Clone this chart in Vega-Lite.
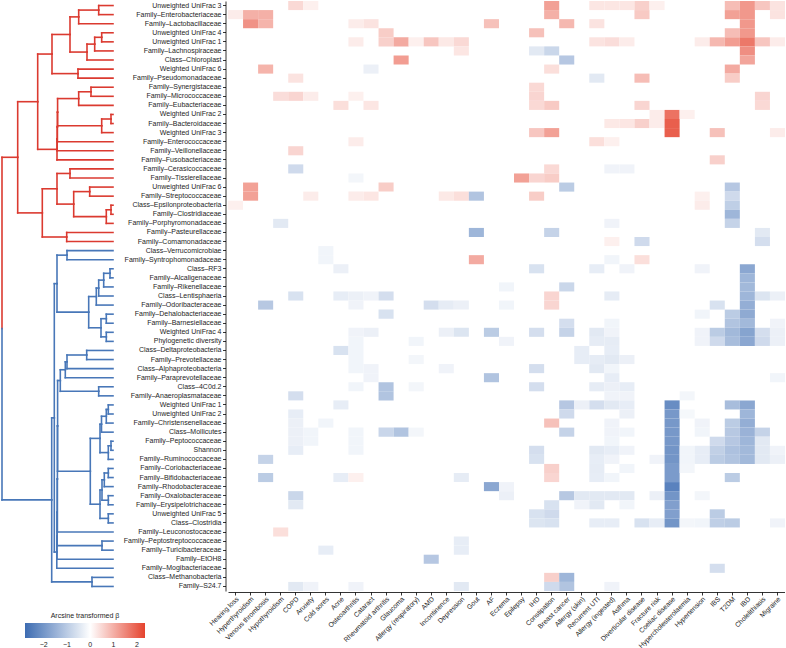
{
  "$schema": "https://vega.github.io/schema/vega-lite/v6.json",
  "padding": {"left": 0, "top": 1, "right": 0, "bottom": 0},
  "bounds": "flush",
  "spacing": 115,
  "config": {
    "view": {"stroke": null},
    "font": "Liberation Sans",
    "axis": {"domainColor": "#000000", "tickColor": "#000000", "labelColor": "#1e1e1e", "labelFontSize": 7, "labelFont": "Liberation Sans", "tickSize": 3, "domainWidth": 0.8, "tickWidth": 0.8, "grid": false}
  },
  "hconcat": [
    {
      "width": 112,
      "height": 590,
      "data": {"values": [
        {"h":14.3,"ya":1,"ha":0,"yb":2,"hb":0,"ym":1.5,"ca":"A","cb":"A"},
        {"h":34.3,"ya":1.5,"ha":14.3,"yb":3,"hb":0,"ym":2.25,"ca":"A","cb":"A"},
        {"h":11.3,"ya":4,"ha":0,"yb":5,"hb":0,"ym":4.5,"ca":"A","cb":"A"},
        {"h":18.3,"ya":4.5,"ha":11.3,"yb":6,"hb":0,"ym":5.25,"ca":"A","cb":"A"},
        {"h":26,"ya":5.25,"ha":18.3,"yb":7,"hb":0,"ym":6.125,"ca":"A","cb":"A"},
        {"h":43,"ya":2.25,"ha":34.3,"yb":6.125,"hb":26,"ym":4.1875,"ca":"A","cb":"A"},
        {"h":35,"ya":8,"ha":0,"yb":9,"hb":0,"ym":8.5,"ca":"A","cb":"A"},
        {"h":61,"ya":4.1875,"ha":43,"yb":8.5,"hb":35,"ym":6.34375,"ca":"A","cb":"A"},
        {"h":22,"ya":10,"ha":0,"yb":11,"hb":0,"ym":10.5,"ca":"A","cb":"A"},
        {"h":34.3,"ya":10.5,"ha":22,"yb":12,"hb":0,"ym":11.25,"ca":"A","cb":"A"},
        {"h":2,"ya":13,"ha":0,"yb":14,"hb":0,"ym":13.5,"ca":"A","cb":"A"},
        {"h":11.3,"ya":13.5,"ha":2,"yb":15,"hb":0,"ym":14.25,"ca":"A","cb":"A"},
        {"h":55.4,"ya":11.25,"ha":34.3,"yb":14.25,"hb":11.3,"ym":12.75,"ca":"A","cb":"A"},
        {"h":55.6,"ya":12.75,"ha":55.4,"yb":16,"hb":0,"ym":14.375,"ca":"A","cb":"A"},
        {"h":55.8,"ya":14.375,"ha":55.6,"yb":17,"hb":0,"ym":15.6875,"ca":"A","cb":"A"},
        {"h":56,"ya":15.6875,"ha":55.8,"yb":18,"hb":0,"ym":16.84375,"ca":"A","cb":"A"},
        {"h":75.3,"ya":6.34375,"ha":61,"yb":16.84375,"hb":56,"ym":11.59375,"ca":"A","cb":"A"},
        {"h":43,"ya":19,"ha":0,"yb":20,"hb":0,"ym":19.5,"ca":"A","cb":"A"},
        {"h":23.3,"ya":21,"ha":0,"yb":22,"hb":0,"ym":21.5,"ca":"A","cb":"A"},
        {"h":2,"ya":23,"ha":0,"yb":24,"hb":0,"ym":23.5,"ca":"A","cb":"A"},
        {"h":6.7,"ya":23.5,"ha":2,"yb":25,"hb":0,"ym":24.25,"ca":"A","cb":"A"},
        {"h":39.3,"ya":21.5,"ha":23.3,"yb":24.25,"hb":6.7,"ym":22.875,"ca":"A","cb":"A"},
        {"h":56,"ya":19.5,"ha":43,"yb":22.875,"hb":39.3,"ym":21.1875,"ca":"A","cb":"A"},
        {"h":46.3,"ya":26,"ha":0,"yb":27,"hb":0,"ym":26.5,"ca":"A","cb":"A"},
        {"h":70.7,"ya":21.1875,"ha":56,"yb":26.5,"hb":46.3,"ym":23.84375,"ca":"A","cb":"A"},
        {"h":95.3,"ya":11.59375,"ha":75.3,"yb":23.84375,"hb":70.7,"ym":17.71875,"ca":"A","cb":"A"},
        {"h":46,"ya":28,"ha":0,"yb":29,"hb":0,"ym":28.5,"ca":"B","cb":"B"},
        {"h":3,"ya":30,"ha":0,"yb":31,"hb":0,"ym":30.5,"ca":"B","cb":"B"},
        {"h":9.3,"ya":30.5,"ha":3,"yb":32,"hb":0,"ym":31.25,"ca":"B","cb":"B"},
        {"h":14.3,"ya":31.25,"ha":9.3,"yb":33,"hb":0,"ym":32.125,"ca":"B","cb":"B"},
        {"h":16.7,"ya":32.125,"ha":14.3,"yb":34,"hb":0,"ym":33.0625,"ca":"B","cb":"B"},
        {"h":6.7,"ya":35,"ha":0,"yb":36,"hb":0,"ym":35.5,"ca":"B","cb":"B"},
        {"h":6.7,"ya":37,"ha":0,"yb":38,"hb":0,"ym":37.5,"ca":"B","cb":"B"},
        {"h":12,"ya":35.5,"ha":6.7,"yb":37.5,"hb":6.7,"ym":36.5,"ca":"B","cb":"B"},
        {"h":24.3,"ya":33.0625,"ha":16.7,"yb":36.5,"hb":12,"ym":34.78125,"ca":"B","cb":"B"},
        {"h":56,"ya":28.5,"ha":46,"yb":34.78125,"hb":24.3,"ym":31.640625,"ca":"B","cb":"B"},
        {"h":26.3,"ya":39,"ha":0,"yb":40,"hb":0,"ym":39.5,"ca":"B","cb":"B"},
        {"h":46,"ya":39.5,"ha":26.3,"yb":41,"hb":0,"ym":40.25,"ca":"B","cb":"B"},
        {"h":47.7,"ya":40.25,"ha":46,"yb":42,"hb":0,"ym":41.125,"ca":"B","cb":"B"},
        {"h":14.3,"ya":43,"ha":0,"yb":44,"hb":0,"ym":43.5,"ca":"B","cb":"B"},
        {"h":52.7,"ya":41.125,"ha":47.7,"yb":43.5,"hb":14.3,"ym":42.3125,"ca":"B","cb":"B"},
        {"h":4.7,"ya":45,"ha":0,"yb":46,"hb":0,"ym":45.5,"ca":"B","cb":"B"},
        {"h":6.7,"ya":45.5,"ha":4.7,"yb":47,"hb":0,"ym":46.25,"ca":"B","cb":"B"},
        {"h":11.5,"ya":46.25,"ha":6.7,"yb":48,"hb":0,"ym":47.125,"ca":"B","cb":"B"},
        {"h":2,"ya":49,"ha":0,"yb":50,"hb":0,"ym":49.5,"ca":"B","cb":"B"},
        {"h":4.7,"ya":49.5,"ha":2,"yb":51,"hb":0,"ym":50.25,"ca":"B","cb":"B"},
        {"h":13,"ya":47.125,"ha":11.5,"yb":50.25,"hb":4.7,"ym":48.6875,"ca":"B","cb":"B"},
        {"h":4.7,"ya":52,"ha":0,"yb":53,"hb":0,"ym":52.5,"ca":"B","cb":"B"},
        {"h":8.7,"ya":52.5,"ha":4.7,"yb":54,"hb":0,"ym":53.25,"ca":"B","cb":"B"},
        {"h":4.7,"ya":55,"ha":0,"yb":56,"hb":0,"ym":55.5,"ca":"B","cb":"B"},
        {"h":11,"ya":53.25,"ha":8.7,"yb":55.5,"hb":4.7,"ym":54.375,"ca":"B","cb":"B"},
        {"h":4.7,"ya":57,"ha":0,"yb":58,"hb":0,"ym":57.5,"ca":"B","cb":"B"},
        {"h":13,"ya":54.375,"ha":11,"yb":57.5,"hb":4.7,"ym":55.9375,"ca":"B","cb":"B"},
        {"h":22.7,"ya":48.6875,"ha":13,"yb":55.9375,"hb":13,"ym":52.3125,"ca":"B","cb":"B"},
        {"h":55.4,"ya":42.3125,"ha":52.7,"yb":52.3125,"hb":22.7,"ym":47.3125,"ca":"B","cb":"B"},
        {"h":55.6,"ya":47.3125,"ha":55.4,"yb":59,"hb":0,"ym":53.15625,"ca":"B","cb":"B"},
        {"h":11,"ya":60,"ha":0,"yb":61,"hb":0,"ym":60.5,"ca":"B","cb":"B"},
        {"h":55.8,"ya":53.15625,"ha":55.6,"yb":60.5,"hb":11,"ym":56.828,"ca":"B","cb":"B"},
        {"h":56,"ya":56.828,"ha":55.8,"yb":62,"hb":0,"ym":59.414,"ca":"B","cb":"B"},
        {"h":56.2,"ya":59.414,"ha":56,"yb":63,"hb":0,"ym":61.207,"ca":"B","cb":"B"},
        {"h":58.7,"ya":31.640625,"ha":56,"yb":61.207,"hb":56.2,"ym":46.424,"ca":"B","cb":"B"},
        {"h":21,"ya":64,"ha":0,"yb":65,"hb":0,"ym":64.5,"ca":"B","cb":"B"},
        {"h":61.3,"ya":46.424,"ha":58.7,"yb":64.5,"hb":21,"ym":55.462,"ca":"B","cb":"B"},
        {"h":111,"ya":17.71875,"ha":95.3,"yb":55.462,"hb":61.3,"ym":36.59,"ca":"A","cb":"B"}
      ]},
      "layer": [
        {"mark": {"type": "rule", "strokeWidth": 1.6, "strokeCap": "square"},
         "encoding": {
           "x": {"field": "h", "type": "quantitative", "scale": {"domain": [0, 112], "reverse": true, "nice": false, "zero": false}, "axis": null},
           "y": {"field": "ya", "type": "quantitative", "scale": {"domain": [0.5, 65.5], "reverse": true, "nice": false, "zero": false}, "axis": null},
           "y2": {"field": "ym"},
           "stroke": {"field": "ca", "type": "nominal", "scale": {"domain": ["A", "B"], "range": ["#db3a30", "#4877b8"]}, "legend": null}
         }},
        {"mark": {"type": "rule", "strokeWidth": 1.6, "strokeCap": "square"},
         "encoding": {
           "x": {"field": "h", "type": "quantitative"},
           "y": {"field": "ym", "type": "quantitative"},
           "y2": {"field": "yb"},
           "stroke": {"field": "cb", "type": "nominal", "legend": null}
         }},
        {"mark": {"type": "rule", "strokeWidth": 1.6, "strokeCap": "square"},
         "encoding": {
           "x": {"field": "h", "type": "quantitative"},
           "x2": {"field": "ha"},
           "y": {"field": "ya", "type": "quantitative"},
           "stroke": {"field": "ca", "type": "nominal", "legend": null}
         }},
        {"mark": {"type": "rule", "strokeWidth": 1.6, "strokeCap": "square"},
         "encoding": {
           "x": {"field": "h", "type": "quantitative"},
           "x2": {"field": "hb"},
           "y": {"field": "yb", "type": "quantitative"},
           "stroke": {"field": "cb", "type": "nominal", "legend": null}
         }}
      ]
    },
    {
      "width": 557,
      "height": 590,
      "data": {"values": [
        {"t":"Unweighted UniFrac 3","d":"COPD","b":0.47},
        {"t":"Unweighted UniFrac 3","d":"Anxiety","b":0.19},
        {"t":"Unweighted UniFrac 3","d":"Constipation","b":1.18},
        {"t":"Unweighted UniFrac 3","d":"Recurrent UTI","b":0.31},
        {"t":"Unweighted UniFrac 3","d":"Allergy (ingested)","b":0.31},
        {"t":"Unweighted UniFrac 3","d":"Asthma","b":0.31},
        {"t":"Unweighted UniFrac 3","d":"Diverticular disease","b":0.59},
        {"t":"Unweighted UniFrac 3","d":"Fracture risk","b":0.19},
        {"t":"Unweighted UniFrac 3","d":"T2DM","b":0.82},
        {"t":"Unweighted UniFrac 3","d":"IBD","b":1.29},
        {"t":"Unweighted UniFrac 3","d":"Cholelithiasis","b":0.71},
        {"t":"Unweighted UniFrac 3","d":"Migraine","b":0.35},
        {"t":"Family–Enterobacteriaceae","d":"Hearing loss","b":0.24},
        {"t":"Family–Enterobacteriaceae","d":"Hyperthyroidism","b":0.99},
        {"t":"Family–Enterobacteriaceae","d":"Venous thrombosis","b":0.99},
        {"t":"Family–Enterobacteriaceae","d":"Constipation","b":0.99},
        {"t":"Family–Enterobacteriaceae","d":"Diverticular disease","b":0.66},
        {"t":"Family–Enterobacteriaceae","d":"T2DM","b":1.18},
        {"t":"Family–Enterobacteriaceae","d":"IBD","b":1.29},
        {"t":"Family–Enterobacteriaceae","d":"Migraine","b":0.35},
        {"t":"Family–Lactobacillaceae","d":"Hyperthyroidism","b":1.36},
        {"t":"Family–Lactobacillaceae","d":"Venous thrombosis","b":0.94},
        {"t":"Family–Lactobacillaceae","d":"Osteoarthritis","b":0.24},
        {"t":"Family–Lactobacillaceae","d":"Cataract","b":0.35},
        {"t":"Family–Lactobacillaceae","d":"AF","b":0.78},
        {"t":"Family–Lactobacillaceae","d":"Breast cancer","b":0.89},
        {"t":"Family–Lactobacillaceae","d":"Recurrent UTI","b":0.35},
        {"t":"Family–Lactobacillaceae","d":"IBD","b":1.29},
        {"t":"Unweighted UniFrac 4","d":"Rheumatoid arthritis","b":0.63},
        {"t":"Unweighted UniFrac 4","d":"IHD","b":0.78},
        {"t":"Unweighted UniFrac 4","d":"T2DM","b":0.82},
        {"t":"Unweighted UniFrac 4","d":"IBD","b":1.29},
        {"t":"Unweighted UniFrac 1","d":"Osteoarthritis","b":0.24},
        {"t":"Unweighted UniFrac 1","d":"Rheumatoid arthritis","b":0.59},
        {"t":"Unweighted UniFrac 1","d":"Glaucoma","b":1.06},
        {"t":"Unweighted UniFrac 1","d":"Allergy (respiratory)","b":0.19},
        {"t":"Unweighted UniFrac 1","d":"AMD","b":0.71},
        {"t":"Unweighted UniFrac 1","d":"Incontinence","b":0.28},
        {"t":"Unweighted UniFrac 1","d":"Depression","b":0.47},
        {"t":"Unweighted UniFrac 1","d":"Recurrent UTI","b":0.35},
        {"t":"Unweighted UniFrac 1","d":"Allergy (ingested)","b":0.42},
        {"t":"Unweighted UniFrac 1","d":"Asthma","b":0.24},
        {"t":"Unweighted UniFrac 1","d":"Hypertension","b":0.24},
        {"t":"Unweighted UniFrac 1","d":"IBS","b":0.89},
        {"t":"Unweighted UniFrac 1","d":"T2DM","b":1.22},
        {"t":"Unweighted UniFrac 1","d":"IBD","b":1.69},
        {"t":"Unweighted UniFrac 1","d":"Cholelithiasis","b":0.71},
        {"t":"Unweighted UniFrac 1","d":"Migraine","b":0.24},
        {"t":"Family–Lachnospiraceae","d":"Depression","b":0.31},
        {"t":"Family–Lachnospiraceae","d":"IHD","b":-0.42},
        {"t":"Family–Lachnospiraceae","d":"Constipation","b":-0.76},
        {"t":"Family–Lachnospiraceae","d":"IBD","b":1.41},
        {"t":"Class–Chloroplast","d":"Glaucoma","b":1.22},
        {"t":"Class–Chloroplast","d":"Breast cancer","b":-1.06},
        {"t":"Class–Chloroplast","d":"IBD","b":1.13},
        {"t":"Weighted UniFrac 6","d":"Venous thrombosis","b":0.94},
        {"t":"Weighted UniFrac 6","d":"Cataract","b":-0.28},
        {"t":"Weighted UniFrac 6","d":"Constipation","b":0.4},
        {"t":"Weighted UniFrac 6","d":"T2DM","b":1.06},
        {"t":"Family–Pseudomonadaceae","d":"COPD","b":0.35},
        {"t":"Family–Pseudomonadaceae","d":"Recurrent UTI","b":-0.42},
        {"t":"Family–Pseudomonadaceae","d":"Diverticular disease","b":0.82},
        {"t":"Family–Pseudomonadaceae","d":"T2DM","b":0.63},
        {"t":"Family–Synergistaceae","d":"IHD","b":0.47},
        {"t":"Family–Micrococcaceae","d":"Hypothyroidism","b":0.42},
        {"t":"Family–Micrococcaceae","d":"COPD","b":0.52},
        {"t":"Family–Micrococcaceae","d":"Anxiety","b":0.24},
        {"t":"Family–Micrococcaceae","d":"Osteoarthritis","b":0.19},
        {"t":"Family–Micrococcaceae","d":"IHD","b":0.52},
        {"t":"Family–Micrococcaceae","d":"Cholelithiasis","b":0.52},
        {"t":"Family–Eubacteriaceae","d":"Acne","b":0.4},
        {"t":"Family–Eubacteriaceae","d":"Cataract","b":0.31},
        {"t":"Family–Eubacteriaceae","d":"IHD","b":0.47},
        {"t":"Family–Eubacteriaceae","d":"Constipation","b":0.66},
        {"t":"Family–Eubacteriaceae","d":"Diverticular disease","b":0.52},
        {"t":"Family–Eubacteriaceae","d":"Cholelithiasis","b":0.47},
        {"t":"Weighted UniFrac 2","d":"Fracture risk","b":0.24},
        {"t":"Weighted UniFrac 2","d":"Coeliac disease","b":1.76},
        {"t":"Weighted UniFrac 2","d":"Hypercholesterolaemia","b":0.19},
        {"t":"Family–Bacteroidaceae","d":"Allergy (ingested)","b":0.28},
        {"t":"Family–Bacteroidaceae","d":"Asthma","b":0.31},
        {"t":"Family–Bacteroidaceae","d":"Diverticular disease","b":0.59},
        {"t":"Family–Bacteroidaceae","d":"Fracture risk","b":0.24},
        {"t":"Family–Bacteroidaceae","d":"Coeliac disease","b":2.0},
        {"t":"Weighted UniFrac 3","d":"IHD","b":0.71},
        {"t":"Weighted UniFrac 3","d":"Constipation","b":1.18},
        {"t":"Weighted UniFrac 3","d":"Coeliac disease","b":2.0},
        {"t":"Weighted UniFrac 3","d":"IBS","b":0.78},
        {"t":"Weighted UniFrac 3","d":"Migraine","b":0.24},
        {"t":"Family–Enterococcaceae","d":"Osteoarthritis","b":0.24},
        {"t":"Family–Enterococcaceae","d":"Recurrent UTI","b":0.4},
        {"t":"Family–Enterococcaceae","d":"Allergy (ingested)","b":0.19},
        {"t":"Family–Veillonellaceae","d":"COPD","b":0.52},
        {"t":"Family–Fusobacteriaceae","d":"IBS","b":0.59},
        {"t":"Family–Cerasicoccaceae","d":"COPD","b":-0.7},
        {"t":"Family–Cerasicoccaceae","d":"Constipation","b":0.47},
        {"t":"Family–Cerasicoccaceae","d":"Allergy (ingested)","b":-0.22},
        {"t":"Family–Cerasicoccaceae","d":"Asthma","b":-0.22},
        {"t":"Family–Tissierellaceae","d":"Osteoarthritis","b":-0.17},
        {"t":"Family–Tissierellaceae","d":"Epilepsy","b":1.18},
        {"t":"Family–Tissierellaceae","d":"IHD","b":0.52},
        {"t":"Family–Tissierellaceae","d":"Constipation","b":0.63},
        {"t":"Unweighted UniFrac 6","d":"Hyperthyroidism","b":1.18},
        {"t":"Unweighted UniFrac 6","d":"Rheumatoid arthritis","b":0.63},
        {"t":"Unweighted UniFrac 6","d":"Breast cancer","b":-0.98},
        {"t":"Unweighted UniFrac 6","d":"T2DM","b":-1.06},
        {"t":"Family–Streptococcaceae","d":"Hyperthyroidism","b":1.18},
        {"t":"Family–Streptococcaceae","d":"Anxiety","b":0.24},
        {"t":"Family–Streptococcaceae","d":"Osteoarthritis","b":0.24},
        {"t":"Family–Streptococcaceae","d":"Cataract","b":0.31},
        {"t":"Family–Streptococcaceae","d":"Incontinence","b":0.28},
        {"t":"Family–Streptococcaceae","d":"Depression","b":0.4},
        {"t":"Family–Streptococcaceae","d":"Gout","b":-1.12},
        {"t":"Family–Streptococcaceae","d":"IHD","b":0.63},
        {"t":"Family–Streptococcaceae","d":"Hypertension","b":0.19},
        {"t":"Family–Streptococcaceae","d":"T2DM","b":-0.7},
        {"t":"Class–Epsilonproteobacteria","d":"Hearing loss","b":0.19},
        {"t":"Class–Epsilonproteobacteria","d":"Hypertension","b":0.24},
        {"t":"Class–Epsilonproteobacteria","d":"T2DM","b":-0.92},
        {"t":"Family–Clostridiaceae","d":"T2DM","b":-1.4},
        {"t":"Family–Porphyromonadaceae","d":"Hypothyroidism","b":-0.42},
        {"t":"Family–Porphyromonadaceae","d":"Allergy (ingested)","b":-0.22},
        {"t":"Family–Porphyromonadaceae","d":"T2DM","b":-0.84},
        {"t":"Family–Pasteurellaceae","d":"Gout","b":-1.4},
        {"t":"Family–Pasteurellaceae","d":"Constipation","b":-0.84},
        {"t":"Family–Pasteurellaceae","d":"Cholelithiasis","b":-0.42},
        {"t":"Family–Comamonadaceae","d":"Allergy (ingested)","b":0.19},
        {"t":"Family–Comamonadaceae","d":"Diverticular disease","b":-0.7},
        {"t":"Family–Comamonadaceae","d":"Cholelithiasis","b":-0.62},
        {"t":"Class–Verrucomicrobiae","d":"Cold sores","b":-0.2},
        {"t":"Family–Syntrophomonadaceae","d":"Cold sores","b":-0.2},
        {"t":"Family–Syntrophomonadaceae","d":"Gout","b":1.06},
        {"t":"Family–Syntrophomonadaceae","d":"Allergy (ingested)","b":-0.2},
        {"t":"Family–Syntrophomonadaceae","d":"Diverticular disease","b":0.4},
        {"t":"Class–RF3","d":"Acne","b":-0.28},
        {"t":"Class–RF3","d":"IHD","b":-0.56},
        {"t":"Class–RF3","d":"Recurrent UTI","b":-0.34},
        {"t":"Class–RF3","d":"Asthma","b":-0.22},
        {"t":"Class–RF3","d":"Hypertension","b":-0.22},
        {"t":"Class–RF3","d":"IBD","b":-1.68},
        {"t":"Family–Alcaligenaceae","d":"IBD","b":-1.4},
        {"t":"Family–Rikenellaceae","d":"Eczema","b":-0.2},
        {"t":"Family–Rikenellaceae","d":"Breast cancer","b":-0.76},
        {"t":"Family–Rikenellaceae","d":"IBD","b":-1.34},
        {"t":"Class–Lentisphaeria","d":"COPD","b":-0.56},
        {"t":"Class–Lentisphaeria","d":"Acne","b":-0.34},
        {"t":"Class–Lentisphaeria","d":"Osteoarthritis","b":-0.28},
        {"t":"Class–Lentisphaeria","d":"Cataract","b":-0.22},
        {"t":"Class–Lentisphaeria","d":"Rheumatoid arthritis","b":-0.62},
        {"t":"Class–Lentisphaeria","d":"Constipation","b":0.52},
        {"t":"Class–Lentisphaeria","d":"Allergy (ingested)","b":-0.36},
        {"t":"Class–Lentisphaeria","d":"IBD","b":-1.4},
        {"t":"Class–Lentisphaeria","d":"Cholelithiasis","b":-0.5},
        {"t":"Class–Lentisphaeria","d":"Migraine","b":-0.28},
        {"t":"Family–Odoribacteraceae","d":"Venous thrombosis","b":-1.04},
        {"t":"Family–Odoribacteraceae","d":"Osteoarthritis","b":-0.22},
        {"t":"Family–Odoribacteraceae","d":"AMD","b":-0.62},
        {"t":"Family–Odoribacteraceae","d":"Incontinence","b":-0.36},
        {"t":"Family–Odoribacteraceae","d":"Depression","b":-0.28},
        {"t":"Family–Odoribacteraceae","d":"Eczema","b":-0.2},
        {"t":"Family–Odoribacteraceae","d":"Constipation","b":0.52},
        {"t":"Family–Odoribacteraceae","d":"IBS","b":-0.56},
        {"t":"Family–Odoribacteraceae","d":"IBD","b":-1.54},
        {"t":"Family–Dehalobacteriaceae","d":"Rheumatoid arthritis","b":-0.56},
        {"t":"Family–Dehalobacteriaceae","d":"Hypertension","b":-0.2},
        {"t":"Family–Dehalobacteriaceae","d":"T2DM","b":-0.98},
        {"t":"Family–Dehalobacteriaceae","d":"IBD","b":-1.62},
        {"t":"Family–Barnesiellaceae","d":"Breast cancer","b":-0.62},
        {"t":"Family–Barnesiellaceae","d":"Allergy (ingested)","b":-0.2},
        {"t":"Family–Barnesiellaceae","d":"T2DM","b":-1.12},
        {"t":"Family–Barnesiellaceae","d":"IBD","b":-1.34},
        {"t":"Family–Barnesiellaceae","d":"Migraine","b":-0.22},
        {"t":"Weighted UniFrac 4","d":"Osteoarthritis","b":-0.22},
        {"t":"Weighted UniFrac 4","d":"Cataract","b":-0.28},
        {"t":"Weighted UniFrac 4","d":"Incontinence","b":-0.28},
        {"t":"Weighted UniFrac 4","d":"Depression","b":-0.5},
        {"t":"Weighted UniFrac 4","d":"AF","b":-0.98},
        {"t":"Weighted UniFrac 4","d":"IHD","b":-0.62},
        {"t":"Weighted UniFrac 4","d":"Breast cancer","b":-0.84},
        {"t":"Weighted UniFrac 4","d":"Recurrent UTI","b":-0.42},
        {"t":"Weighted UniFrac 4","d":"Allergy (ingested)","b":-0.22},
        {"t":"Weighted UniFrac 4","d":"Hypertension","b":-0.22},
        {"t":"Weighted UniFrac 4","d":"IBS","b":-0.98},
        {"t":"Weighted UniFrac 4","d":"T2DM","b":-1.34},
        {"t":"Weighted UniFrac 4","d":"IBD","b":-1.74},
        {"t":"Weighted UniFrac 4","d":"Cholelithiasis","b":-0.62},
        {"t":"Weighted UniFrac 4","d":"Migraine","b":-0.28},
        {"t":"Phylogenetic diversity","d":"Osteoarthritis","b":-0.2},
        {"t":"Phylogenetic diversity","d":"Allergy (respiratory)","b":-0.2},
        {"t":"Phylogenetic diversity","d":"Eczema","b":-0.22},
        {"t":"Phylogenetic diversity","d":"Recurrent UTI","b":-0.36},
        {"t":"Phylogenetic diversity","d":"Allergy (ingested)","b":-0.36},
        {"t":"Phylogenetic diversity","d":"Hypertension","b":-0.22},
        {"t":"Phylogenetic diversity","d":"IBS","b":-0.7},
        {"t":"Phylogenetic diversity","d":"T2DM","b":-1.26},
        {"t":"Phylogenetic diversity","d":"IBD","b":-1.68},
        {"t":"Phylogenetic diversity","d":"Cholelithiasis","b":-0.7},
        {"t":"Phylogenetic diversity","d":"Migraine","b":-0.28},
        {"t":"Class–Deltaproteobacteria","d":"Acne","b":-0.56},
        {"t":"Class–Deltaproteobacteria","d":"Osteoarthritis","b":-0.2},
        {"t":"Class–Deltaproteobacteria","d":"Allergy (skin)","b":-0.34},
        {"t":"Class–Deltaproteobacteria","d":"Allergy (ingested)","b":-0.34},
        {"t":"Family–Prevotellaceae","d":"Osteoarthritis","b":-0.2},
        {"t":"Family–Prevotellaceae","d":"Allergy (respiratory)","b":-0.17},
        {"t":"Family–Prevotellaceae","d":"Allergy (skin)","b":-0.34},
        {"t":"Family–Prevotellaceae","d":"Recurrent UTI","b":-0.36},
        {"t":"Family–Prevotellaceae","d":"Allergy (ingested)","b":-0.42},
        {"t":"Family–Prevotellaceae","d":"Asthma","b":-0.28},
        {"t":"Class–Alphaproteobacteria","d":"Osteoarthritis","b":-0.2},
        {"t":"Class–Alphaproteobacteria","d":"Cataract","b":-0.22},
        {"t":"Class–Alphaproteobacteria","d":"Incontinence","b":-0.22},
        {"t":"Class–Alphaproteobacteria","d":"IHD","b":-0.62},
        {"t":"Class–Alphaproteobacteria","d":"Recurrent UTI","b":-0.42},
        {"t":"Class–Alphaproteobacteria","d":"Allergy (ingested)","b":-0.2},
        {"t":"Family–Paraprevotellaceae","d":"Cataract","b":-0.22},
        {"t":"Family–Paraprevotellaceae","d":"AF","b":-1.12},
        {"t":"Family–Paraprevotellaceae","d":"Allergy (ingested)","b":-0.34},
        {"t":"Family–Paraprevotellaceae","d":"Migraine","b":-0.2},
        {"t":"Class–4C0d.2","d":"Osteoarthritis","b":-0.2},
        {"t":"Class–4C0d.2","d":"Rheumatoid arthritis","b":-1.12},
        {"t":"Class–4C0d.2","d":"Allergy (respiratory)","b":-0.17},
        {"t":"Class–4C0d.2","d":"IHD","b":-0.62},
        {"t":"Class–4C0d.2","d":"Recurrent UTI","b":-0.36},
        {"t":"Class–4C0d.2","d":"Allergy (ingested)","b":-0.28},
        {"t":"Class–4C0d.2","d":"Asthma","b":-0.34},
        {"t":"Family–Anaeroplasmataceae","d":"COPD","b":-0.62},
        {"t":"Family–Anaeroplasmataceae","d":"Rheumatoid arthritis","b":-1.12},
        {"t":"Family–Anaeroplasmataceae","d":"Allergy (ingested)","b":-0.22},
        {"t":"Family–Anaeroplasmataceae","d":"Asthma","b":-0.22},
        {"t":"Family–Anaeroplasmataceae","d":"Hypercholesterolaemia","b":-0.17},
        {"t":"Weighted UniFrac 1","d":"Acne","b":-0.34},
        {"t":"Weighted UniFrac 1","d":"Breast cancer","b":-1.06},
        {"t":"Weighted UniFrac 1","d":"Allergy (skin)","b":-0.28},
        {"t":"Weighted UniFrac 1","d":"Recurrent UTI","b":-0.62},
        {"t":"Weighted UniFrac 1","d":"Allergy (ingested)","b":-0.42},
        {"t":"Weighted UniFrac 1","d":"Asthma","b":-0.34},
        {"t":"Weighted UniFrac 1","d":"Coeliac disease","b":-2.18},
        {"t":"Weighted UniFrac 1","d":"T2DM","b":-1.26},
        {"t":"Weighted UniFrac 1","d":"IBD","b":-1.68},
        {"t":"Unweighted UniFrac 2","d":"COPD","b":-0.34},
        {"t":"Unweighted UniFrac 2","d":"Breast cancer","b":-0.7},
        {"t":"Unweighted UniFrac 2","d":"Asthma","b":-0.28},
        {"t":"Unweighted UniFrac 2","d":"Coeliac disease","b":-1.96},
        {"t":"Unweighted UniFrac 2","d":"Hypercholesterolaemia","b":-0.14},
        {"t":"Unweighted UniFrac 2","d":"IBD","b":-1.4},
        {"t":"Family–Christensenellaceae","d":"COPD","b":-0.28},
        {"t":"Family–Christensenellaceae","d":"Cold sores","b":-0.2},
        {"t":"Family–Christensenellaceae","d":"Constipation","b":0.78},
        {"t":"Family–Christensenellaceae","d":"Allergy (ingested)","b":-0.22},
        {"t":"Family–Christensenellaceae","d":"Coeliac disease","b":-1.96},
        {"t":"Family–Christensenellaceae","d":"Hypertension","b":-0.22},
        {"t":"Family–Christensenellaceae","d":"T2DM","b":-0.98},
        {"t":"Family–Christensenellaceae","d":"IBD","b":-1.54},
        {"t":"Class–Mollicutes","d":"COPD","b":-0.28},
        {"t":"Class–Mollicutes","d":"Anxiety","b":-0.2},
        {"t":"Class–Mollicutes","d":"Osteoarthritis","b":-0.2},
        {"t":"Class–Mollicutes","d":"Rheumatoid arthritis","b":-0.78},
        {"t":"Class–Mollicutes","d":"Glaucoma","b":-1.12},
        {"t":"Class–Mollicutes","d":"Allergy (respiratory)","b":-0.17},
        {"t":"Class–Mollicutes","d":"Breast cancer","b":-0.84},
        {"t":"Class–Mollicutes","d":"Allergy (ingested)","b":-0.22},
        {"t":"Class–Mollicutes","d":"Asthma","b":-0.2},
        {"t":"Class–Mollicutes","d":"Coeliac disease","b":-1.96},
        {"t":"Class–Mollicutes","d":"Hypertension","b":-0.2},
        {"t":"Class–Mollicutes","d":"T2DM","b":-1.04},
        {"t":"Class–Mollicutes","d":"IBD","b":-1.46},
        {"t":"Class–Mollicutes","d":"Cholelithiasis","b":-0.84},
        {"t":"Family–Peptococcaceae","d":"COPD","b":-0.28},
        {"t":"Family–Peptococcaceae","d":"Anxiety","b":-0.2},
        {"t":"Family–Peptococcaceae","d":"Osteoarthritis","b":-0.2},
        {"t":"Family–Peptococcaceae","d":"Allergy (ingested)","b":-0.2},
        {"t":"Family–Peptococcaceae","d":"Coeliac disease","b":-1.96},
        {"t":"Family–Peptococcaceae","d":"IBS","b":-0.7},
        {"t":"Family–Peptococcaceae","d":"T2DM","b":-1.06},
        {"t":"Family–Peptococcaceae","d":"IBD","b":-1.4},
        {"t":"Family–Peptococcaceae","d":"Cholelithiasis","b":-0.42},
        {"t":"Shannon","d":"COPD","b":-0.34},
        {"t":"Shannon","d":"Osteoarthritis","b":-0.2},
        {"t":"Shannon","d":"IHD","b":-0.62},
        {"t":"Shannon","d":"Recurrent UTI","b":-0.42},
        {"t":"Shannon","d":"Allergy (ingested)","b":-0.34},
        {"t":"Shannon","d":"Asthma","b":-0.22},
        {"t":"Shannon","d":"Coeliac disease","b":-2.02},
        {"t":"Shannon","d":"Hypercholesterolaemia","b":-0.2},
        {"t":"Shannon","d":"Hypertension","b":-0.34},
        {"t":"Shannon","d":"IBS","b":-0.9},
        {"t":"Shannon","d":"T2DM","b":-1.18},
        {"t":"Shannon","d":"IBD","b":-1.34},
        {"t":"Shannon","d":"Cholelithiasis","b":-0.42},
        {"t":"Shannon","d":"Migraine","b":-0.22},
        {"t":"Family–Ruminococcaceae","d":"Venous thrombosis","b":-0.84},
        {"t":"Family–Ruminococcaceae","d":"IHD","b":-0.56},
        {"t":"Family–Ruminococcaceae","d":"Recurrent UTI","b":-0.34},
        {"t":"Family–Ruminococcaceae","d":"Allergy (ingested)","b":-0.22},
        {"t":"Family–Ruminococcaceae","d":"Fracture risk","b":-0.22},
        {"t":"Family–Ruminococcaceae","d":"Coeliac disease","b":-2.02},
        {"t":"Family–Ruminococcaceae","d":"Hypercholesterolaemia","b":-0.2},
        {"t":"Family–Ruminococcaceae","d":"Hypertension","b":-0.34},
        {"t":"Family–Ruminococcaceae","d":"IBS","b":-0.98},
        {"t":"Family–Ruminococcaceae","d":"T2DM","b":-1.12},
        {"t":"Family–Ruminococcaceae","d":"IBD","b":-1.34},
        {"t":"Family–Ruminococcaceae","d":"Cholelithiasis","b":-0.42},
        {"t":"Family–Ruminococcaceae","d":"Migraine","b":-0.28},
        {"t":"Family–Coriobacteriaceae","d":"Constipation","b":0.59},
        {"t":"Family–Coriobacteriaceae","d":"Recurrent UTI","b":-0.36},
        {"t":"Family–Coriobacteriaceae","d":"Asthma","b":-0.2},
        {"t":"Family–Coriobacteriaceae","d":"Coeliac disease","b":-1.9},
        {"t":"Family–Coriobacteriaceae","d":"Hypercholesterolaemia","b":-0.17},
        {"t":"Family–Bifidobacteriaceae","d":"Venous thrombosis","b":-0.98},
        {"t":"Family–Bifidobacteriaceae","d":"Acne","b":-0.34},
        {"t":"Family–Bifidobacteriaceae","d":"Osteoarthritis","b":0.19},
        {"t":"Family–Bifidobacteriaceae","d":"Depression","b":-0.36},
        {"t":"Family–Bifidobacteriaceae","d":"Constipation","b":0.52},
        {"t":"Family–Bifidobacteriaceae","d":"Recurrent UTI","b":-0.34},
        {"t":"Family–Bifidobacteriaceae","d":"Allergy (ingested)","b":-0.2},
        {"t":"Family–Bifidobacteriaceae","d":"Coeliac disease","b":-1.9},
        {"t":"Family–Bifidobacteriaceae","d":"T2DM","b":-0.98},
        {"t":"Family–Rhodobacteraceae","d":"AF","b":-1.68},
        {"t":"Family–Rhodobacteraceae","d":"Eczema","b":-0.22},
        {"t":"Family–Rhodobacteraceae","d":"Coeliac disease","b":-2.38},
        {"t":"Family–Oxalobacteraceae","d":"COPD","b":-0.76},
        {"t":"Family–Oxalobacteraceae","d":"Eczema","b":-0.28},
        {"t":"Family–Oxalobacteraceae","d":"Breast cancer","b":-1.04},
        {"t":"Family–Oxalobacteraceae","d":"Allergy (skin)","b":-0.42},
        {"t":"Family–Oxalobacteraceae","d":"Recurrent UTI","b":-0.42},
        {"t":"Family–Oxalobacteraceae","d":"Allergy (ingested)","b":-0.42},
        {"t":"Family–Oxalobacteraceae","d":"Asthma","b":-0.42},
        {"t":"Family–Oxalobacteraceae","d":"Fracture risk","b":-0.28},
        {"t":"Family–Oxalobacteraceae","d":"Coeliac disease","b":-2.02},
        {"t":"Family–Oxalobacteraceae","d":"Hypertension","b":-0.17},
        {"t":"Family–Erysipelotrichaceae","d":"COPD","b":-0.42},
        {"t":"Family–Erysipelotrichaceae","d":"Constipation","b":-0.56},
        {"t":"Family–Erysipelotrichaceae","d":"Allergy (skin)","b":-0.22},
        {"t":"Family–Erysipelotrichaceae","d":"Recurrent UTI","b":-0.42},
        {"t":"Family–Erysipelotrichaceae","d":"Asthma","b":-0.2},
        {"t":"Family–Erysipelotrichaceae","d":"Coeliac disease","b":-1.82},
        {"t":"Unweighted UniFrac 5","d":"IHD","b":-0.56},
        {"t":"Unweighted UniFrac 5","d":"Constipation","b":-0.7},
        {"t":"Unweighted UniFrac 5","d":"Coeliac disease","b":-1.82},
        {"t":"Unweighted UniFrac 5","d":"IBS","b":-0.98},
        {"t":"Class–Clostridia","d":"IHD","b":-0.5},
        {"t":"Class–Clostridia","d":"Constipation","b":-0.56},
        {"t":"Class–Clostridia","d":"Recurrent UTI","b":-0.34},
        {"t":"Class–Clostridia","d":"Allergy (ingested)","b":-0.34},
        {"t":"Class–Clostridia","d":"Diverticular disease","b":-0.56},
        {"t":"Class–Clostridia","d":"Fracture risk","b":-0.34},
        {"t":"Class–Clostridia","d":"Coeliac disease","b":-2.02},
        {"t":"Class–Clostridia","d":"Hypercholesterolaemia","b":-0.17},
        {"t":"Class–Clostridia","d":"Hypertension","b":-0.2},
        {"t":"Class–Clostridia","d":"IBS","b":-0.92},
        {"t":"Class–Clostridia","d":"T2DM","b":-0.98},
        {"t":"Class–Clostridia","d":"Migraine","b":-0.22},
        {"t":"Family–Leuconostocaceae","d":"Hypothyroidism","b":0.4},
        {"t":"Family–Peptostreptococcaceae","d":"Depression","b":-0.34},
        {"t":"Family–Turicibacteraceae","d":"Cold sores","b":-0.34},
        {"t":"Family–Turicibacteraceae","d":"Depression","b":-0.34},
        {"t":"Family–EtOH8","d":"AMD","b":-1.06},
        {"t":"Family–Mogibacteriaceae","d":"IBS","b":-0.62},
        {"t":"Class–Methanobacteria","d":"Constipation","b":0.59},
        {"t":"Class–Methanobacteria","d":"Breast cancer","b":-1.4},
        {"t":"Family–S24.7","d":"COPD","b":-0.42},
        {"t":"Family–S24.7","d":"Anxiety","b":-0.22},
        {"t":"Family–S24.7","d":"Osteoarthritis","b":-0.22},
        {"t":"Family–S24.7","d":"Depression","b":-0.42},
        {"t":"Family–S24.7","d":"Constipation","b":-0.7},
        {"t":"Family–S24.7","d":"Breast cancer","b":-1.12},
        {"t":"Family–S24.7","d":"Allergy (ingested)","b":-0.22}
      ]},
      "mark": {"type": "rect"},
      "encoding": {
        "x": {"field": "d", "type": "nominal", "title": null,
          "scale": {"domain": ["Hearing loss","Hyperthyroidism","Venous thrombosis","Hypothyroidism","COPD","Anxiety","Cold sores","Acne","Osteoarthritis","Cataract","Rheumatoid arthritis","Glaucoma","Allergy (respiratory)","AMD","Incontinence","Depression","Gout","AF","Eczema","Epilepsy","IHD","Constipation","Breast cancer","Allergy (skin)","Recurrent UTI","Allergy (ingested)","Asthma","Diverticular disease","Fracture risk","Coeliac disease","Hypercholesterolaemia","Hypertension","IBS","T2DM","IBD","Cholelithiasis","Migraine"], "paddingInner": 0, "paddingOuter": 0},
          "axis": {"orient": "bottom", "labelAngle": -45, "labelAlign": "right", "labelBaseline": "top", "offset": 1, "labelPadding": 0.5, "labelFontSize": 6.8}},
        "y": {"field": "t", "type": "nominal", "title": null,
          "scale": {"domain": ["Unweighted UniFrac 3","Family–Enterobacteriaceae","Family–Lactobacillaceae","Unweighted UniFrac 4","Unweighted UniFrac 1","Family–Lachnospiraceae","Class–Chloroplast","Weighted UniFrac 6","Family–Pseudomonadaceae","Family–Synergistaceae","Family–Micrococcaceae","Family–Eubacteriaceae","Weighted UniFrac 2","Family–Bacteroidaceae","Weighted UniFrac 3","Family–Enterococcaceae","Family–Veillonellaceae","Family–Fusobacteriaceae","Family–Cerasicoccaceae","Family–Tissierellaceae","Unweighted UniFrac 6","Family–Streptococcaceae","Class–Epsilonproteobacteria","Family–Clostridiaceae","Family–Porphyromonadaceae","Family–Pasteurellaceae","Family–Comamonadaceae","Class–Verrucomicrobiae","Family–Syntrophomonadaceae","Class–RF3","Family–Alcaligenaceae","Family–Rikenellaceae","Class–Lentisphaeria","Family–Odoribacteraceae","Family–Dehalobacteriaceae","Family–Barnesiellaceae","Weighted UniFrac 4","Phylogenetic diversity","Class–Deltaproteobacteria","Family–Prevotellaceae","Class–Alphaproteobacteria","Family–Paraprevotellaceae","Class–4C0d.2","Family–Anaeroplasmataceae","Weighted UniFrac 1","Unweighted UniFrac 2","Family–Christensenellaceae","Class–Mollicutes","Family–Peptococcaceae","Shannon","Family–Ruminococcaceae","Family–Coriobacteriaceae","Family–Bifidobacteriaceae","Family–Rhodobacteraceae","Family–Oxalobacteraceae","Family–Erysipelotrichaceae","Unweighted UniFrac 5","Class–Clostridia","Family–Leuconostocaceae","Family–Peptostreptococcaceae","Family–Turicibacteraceae","Family–EtOH8","Family–Mogibacteriaceae","Class–Methanobacteria","Family–S24.7"], "paddingInner": 0, "paddingOuter": 0},
          "axis": {"orient": "left", "offset": 2.5, "labelPadding": 1.5}},
        "color": {"field": "b", "type": "quantitative",
          "scale": {"domain": [-2.8, 0, 2.35], "range": ["#3d6cb2", "#ffffff", "#e5432e"], "interpolate": "rgb"},
          "legend": {"title": "Arcsine transformed β", "orient": "none", "legendX": 24, "legendY": 611, "direction": "horizontal", "gradientLength": 120, "gradientThickness": 15, "values": [-2, -1, 0, 1, 2], "titleFontSize": 7, "titleFontWeight": "normal", "titleFont": "Liberation Sans", "titleColor": "#1e1e1e", "titleAnchor": "middle", "titlePadding": 4, "labelFontSize": 7, "labelFont": "Liberation Sans", "labelColor": "#1e1e1e", "labelOffset": 3, "gradientStrokeWidth": 0}}
      }
    }
  ]
}
